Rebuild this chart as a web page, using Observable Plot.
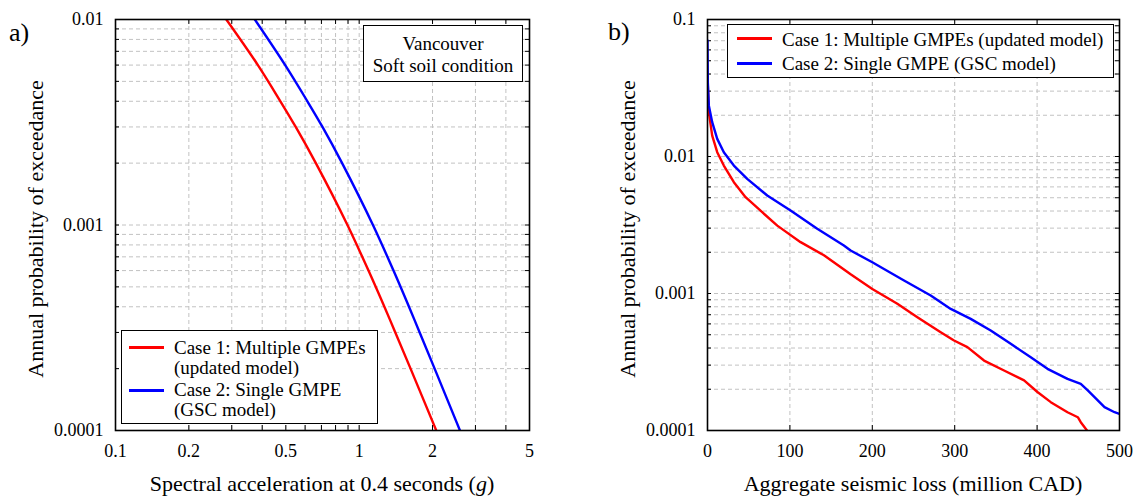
<!DOCTYPE html>
<html><head><meta charset="utf-8">
<script src="https://cdn.jsdelivr.net/npm/d3@7"></script>
<script src="https://cdn.jsdelivr.net/npm/@observablehq/plot@0.6"></script>
<style>
body{margin:0;background:#fff;}
#wrap{position:relative;width:1137px;height:497px;font-family:"Liberation Serif","Times New Roman",serif;color:#000;overflow:hidden;}
.abs{position:absolute;white-space:nowrap;}
.box{position:absolute;background:#fff;border:1.5px solid #000;box-sizing:border-box;}
</style></head><body><div id="wrap"></div>
<script>
// ---- Panel a) hazard curves (Vancouver, soft soil) ----
const hazardProb = [0.01, 0.006, 0.004, 0.003, 0.002, 0.001, 0.0006, 0.0004, 0.0003, 0.0002, 0.0001];
const saCase1 = [0.285, 0.384, 0.475, 0.549, 0.664, 0.895, 1.092, 1.269, 1.407, 1.625, 2.072];
const saCase2 = [0.373, 0.497, 0.613, 0.707, 0.851, 1.139, 1.383, 1.601, 1.771, 2.040, 2.592];

// ---- Panel b) loss curves ----
const lossCase1 = [0, 1.6, 5.7, 11.8, 19.8, 32, 46.2, 66.4, 84.7, 113, 141.3, 157.5, 173.7, 200, 230.4, 254.7, 283, 299.2, 315.4, 335.6, 359.9, 384.2, 400.4, 416.6, 436.9, 449.4, 453, 460.6];
const probCase1 = [0.038, 0.0211, 0.01422, 0.01075, 0.00859, 0.00649, 0.00505, 0.00392, 0.00313, 0.00237, 0.00190, 0.00162, 0.00138, 0.00108, 0.000841, 0.000672, 0.000522, 0.000454, 0.000406, 0.000324, 0.000274, 0.000232, 0.000191, 0.000161, 0.000136, 0.000125, 0.000115, 0.0001];
const lossCase2 = [0, 0.4, 1.6, 5.7, 11.8, 19.8, 32, 48.2, 72.5, 100.8, 133.2, 165.5, 173.7, 200, 214.2, 238.5, 270.9, 295.2, 319.4, 343.7, 368, 392.3, 412.6, 436.9, 453, 461.5, 481.8, 494, 500];
const probCase2 = [0.0703, 0.0348, 0.0236, 0.0178, 0.01345, 0.01075, 0.00859, 0.00687, 0.00519, 0.00403, 0.00297, 0.00224, 0.00206, 0.00169, 0.00151, 0.001244, 0.000966, 0.000772, 0.000653, 0.000537, 0.000429, 0.000343, 0.000282, 0.000238, 0.000219, 0.000196, 0.000148, 0.000136, 0.000132];

const legendA = ["Case 1: Multiple GMPEs", "(updated model)", "Case 2: Single GMPE", "(GSC model)"];
const legendB = ["Case 1: Multiple GMPEs (updated model)", "Case 2: Single GMPE (GSC model)"];
const colors = ["#ff0000", "#0000ff"];
const xTicksA = [0.1, 0.2, 0.5, 1, 2, 5];
const yTicksA = [0.0001, 0.001, 0.01];
const xTicksB = [0, 100, 200, 300, 400, 500];
const yTicksB = [0.0001, 0.001, 0.01, 0.1];
const yTitle = "Annual probability of exceedance";

const wrap = document.getElementById("wrap");
const gridStyle = {stroke: "#c2c2c2", strokeWidth: 1, strokeDasharray: "4,3"};
const fmt = d => String(d);
const font = "Liberation Serif, Times New Roman, serif";

function panel({width, marginLeft, marginRight, xScale, yScale, gridX, gridY, tickX, series, curve}) {
  const H = 497, mt = 19, mb = 67;
  const fh = H - mt - mb, fw = width - marginLeft - marginRight;
  return Plot.plot({
    width, height: H, marginLeft, marginRight, marginTop: mt, marginBottom: mb,
    style: {fontFamily: font, fontSize: "18px", color: "#000", background: "#fff", overflow: "visible"},
    x: {...xScale, tickFormat: fmt, tickSize: 0, tickPadding: 14, label: null},
    y: {...yScale, tickFormat: fmt, tickSize: 0, tickPadding: 12, label: null},
    marks: [
      Plot.ruleX(gridX, gridStyle),
      Plot.ruleY(gridY, gridStyle),
      Plot.ruleX(tickX, {stroke: "#000", insetTop: fh - 5}),
      Plot.ruleX(tickX, {stroke: "#000", insetBottom: fh - 5}),
      Plot.ruleY(gridY, {stroke: "#000", insetRight: fw - 4}),
      Plot.ruleY(gridY, {stroke: "#000", insetLeft: fw - 4}),
      ...series.map((s, i) => Plot.line(s, {x: "x", y: "y", stroke: colors[i], strokeWidth: 2.4, clip: true, curve})),
      Plot.frame({stroke: "#000", strokeWidth: 1.6}),
      Plot.text([yTitle], {frameAnchor: "left", rotate: -90, dx: -80, dy: 4, fontSize: 22, fill: "#000", textAnchor: "middle", lineAnchor: "middle"})
    ]
  });
}

const seriesA = [saCase1, saCase2].map(arr => hazardProb.map((p, i) => ({x: arr[i], y: p})));
const seriesB = [[lossCase1, probCase1], [lossCase2, probCase2]].map(([xs, ys]) => xs.map((x, i) => ({x, y: ys[i]})));

const gA = panel({
  width: 560, marginLeft: 115, marginRight: 31,
  xScale: {type: "log", domain: [0.1, 5], ticks: xTicksA},
  yScale: {type: "log", domain: [1e-4, 1e-2], ticks: yTicksA},
  gridX: d3.scaleLog().domain([0.1, 5]).ticks(),
  gridY: d3.scaleLog().domain([1e-4, 1e-2]).ticks(),
  tickX: d3.scaleLog().domain([0.1, 5]).ticks(),
  series: seriesA, curve: "catmull-rom"
});
const gB = panel({
  width: 577, marginLeft: 147, marginRight: 18,
  xScale: {type: "linear", domain: [0, 500], ticks: xTicksB},
  yScale: {type: "log", domain: [1e-4, 0.1], ticks: yTicksB},
  gridX: xTicksB.slice(1, -1),
  gridY: d3.scaleLog().domain([1e-4, 0.1]).ticks(),
  tickX: xTicksB.slice(1, -1),
  series: seriesB, curve: "linear"
});
gA.style.position = "absolute"; gA.style.left = "0px"; gA.style.top = "0px";
gB.style.position = "absolute"; gB.style.left = "560px"; gB.style.top = "0px";
wrap.appendChild(gA); wrap.appendChild(gB);

function addText(html, x, cy, size, opts = {}) {
  const d = document.createElement("div");
  d.className = "abs";
  d.innerHTML = html;
  d.style.fontSize = size + "px";
  d.style.lineHeight = size + "px";
  d.style.top = (cy - size / 2) + "px";
  if (opts.center) { d.style.left = (x - 300) + "px"; d.style.width = "600px"; d.style.textAlign = "center"; }
  else d.style.left = x + "px";
  wrap.appendChild(d);
}
function addBox(l, t, w, h) {
  const b = document.createElement("div");
  b.className = "box";
  Object.assign(b.style, {left: l + "px", top: t + "px", width: w + "px", height: h + "px"});
  wrap.appendChild(b);
}
function addLine(x, cy, w, color) {
  const d = document.createElement("div");
  Object.assign(d.style, {position: "absolute", left: x + "px", top: (cy - 1.5) + "px", width: w + "px", height: "3px", background: color});
  wrap.appendChild(d);
}

// panel letters
addText("a)", 9, 33, 26);
addText("b)", 608, 32, 26);
// x-axis titles
addText("Spectral acceleration at 0.4 seconds (<i>g</i>)", 322, 484, 22, {center: true});
addText("Aggregate seismic loss (million CAD)", 913, 484, 22, {center: true});

// site box panel a
addBox(363, 25, 160, 57);
addText("Vancouver", 443, 43, 19, {center: true});
addText("Soft soil condition", 443, 65, 19, {center: true});

// legend panel a
addBox(121, 330, 257, 94);
addLine(129, 347.5, 35, colors[0]);
addLine(129, 390, 35, colors[1]);
addText(legendA[0], 174, 347.5, 19);
addText(legendA[1], 174, 367, 19);
addText(legendA[2], 174, 389.5, 19);
addText(legendA[3], 174, 409, 19);

// legend panel b
addBox(727, 24, 387, 54);
addLine(737, 38.5, 35, colors[0]);
addLine(737, 63, 35, colors[1]);
addText(legendB[0], 782, 39.5, 19);
addText(legendB[1], 782, 63.5, 19);
</script></body></html>
